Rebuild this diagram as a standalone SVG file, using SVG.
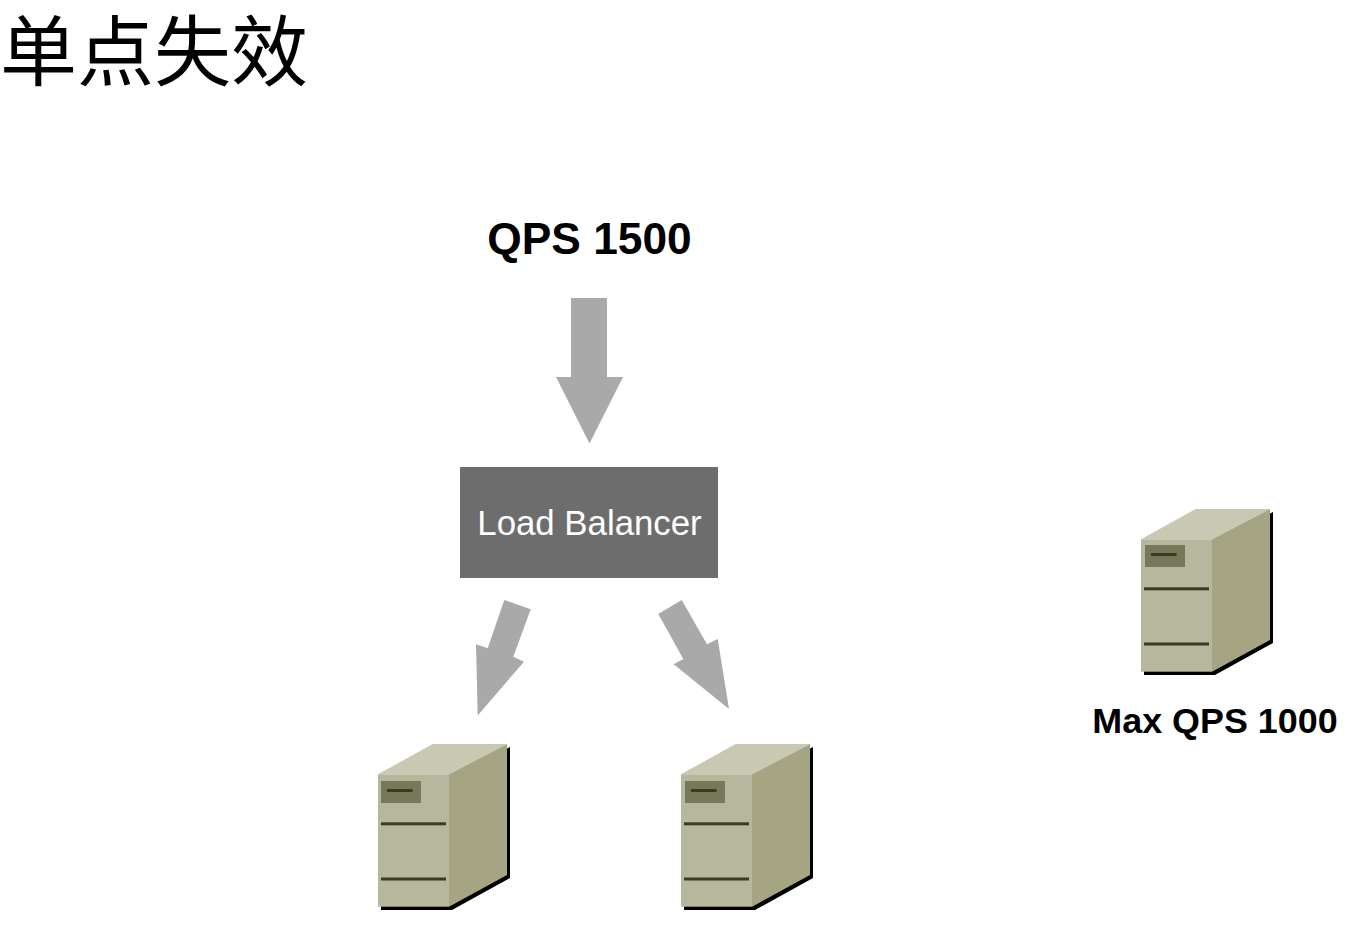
<svg xmlns="http://www.w3.org/2000/svg" width="1355" height="925" viewBox="0 0 1355 925">
  <style>
    .flow { fill: #a9a9a9; }
    .title { font-family: "Noto Sans CJK SC", "Liberation Sans", sans-serif; font-size: 77px; fill: #000; }
    .label { font-family: "Liberation Sans", Arial, sans-serif; font-weight: 700; fill: #000; text-anchor: middle; }
  </style>
  <defs>
    <!-- Tower server, origin at the left edge of the front face, level with the top of the case -->
    <g id="server">
      <path d="M3 33 H74 L132 3 V134 L74 166 H3 Z" fill="#000"/>
      <path d="M0 30.3 L54.7 0 H129 L71 30.3 Z" fill="#c8c8b3"/>
      <path d="M71 30.3 L129 0 V131 L71 162.7 Z" fill="#a5a584"/>
      <rect x="0" y="30.3" width="71" height="132.4" fill="#b7b79d"/>
      <rect x="3" y="78.3" width="65" height="3" fill="#3a3a28"/>
      <rect x="3" y="133.5" width="65" height="3" fill="#3a3a28"/>
    </g>
    <!-- Drive bay on the front face -->
    <g id="bay">
      <rect x="0" y="0" width="40" height="22" fill="#77785a"/>
      <rect x="6" y="8" width="25.5" height="3" fill="#3a3a28"/>
    </g>
  </defs>

  <text class="title" x="0" y="80">单点失效</text>

  <g id="connectors">
    <path class="flow" d="M571 298 H607 V377 H623 L589.5 443.5 L556 377 H571 Z"/>
    <path class="flow" d="M504.3 600 L530.7 609.3 L513.3 656.7 L524 661.7 L477.7 715.5 L476 644.3 L487.7 648.3 Z"/>
    <path class="flow" d="M681.7 600 L658.3 614 L683.3 659 L673.7 664.3 L729 709 L717.7 639 L707 644.3 Z"/>
  </g>

  <g id="qps-label">
    <text class="label" x="589.5" y="254" font-size="44.3">QPS 1500</text>
  </g>

  <g id="load-balancer">
    <rect x="460" y="467" width="258" height="111" fill="#6d6d6d"/>
    <text x="589.5" y="535" font-family="'Liberation Sans', Arial, sans-serif" font-size="34.8" fill="#fff" text-anchor="middle">Load Balancer</text>
  </g>

  <g id="server-left">
    <use href="#server" x="378" y="744"/>
    <use href="#bay" x="381" y="781"/>
  </g>
  <g id="server-right">
    <use href="#server" x="681" y="744"/>
    <use href="#bay" x="685" y="781"/>
  </g>

  <g id="server-spare">
    <use href="#server" x="1141" y="509"/>
    <use href="#bay" x="1145" y="545"/>
    <text class="label" x="1215" y="733" font-size="35.9">Max QPS 1000</text>
  </g>
</svg>
